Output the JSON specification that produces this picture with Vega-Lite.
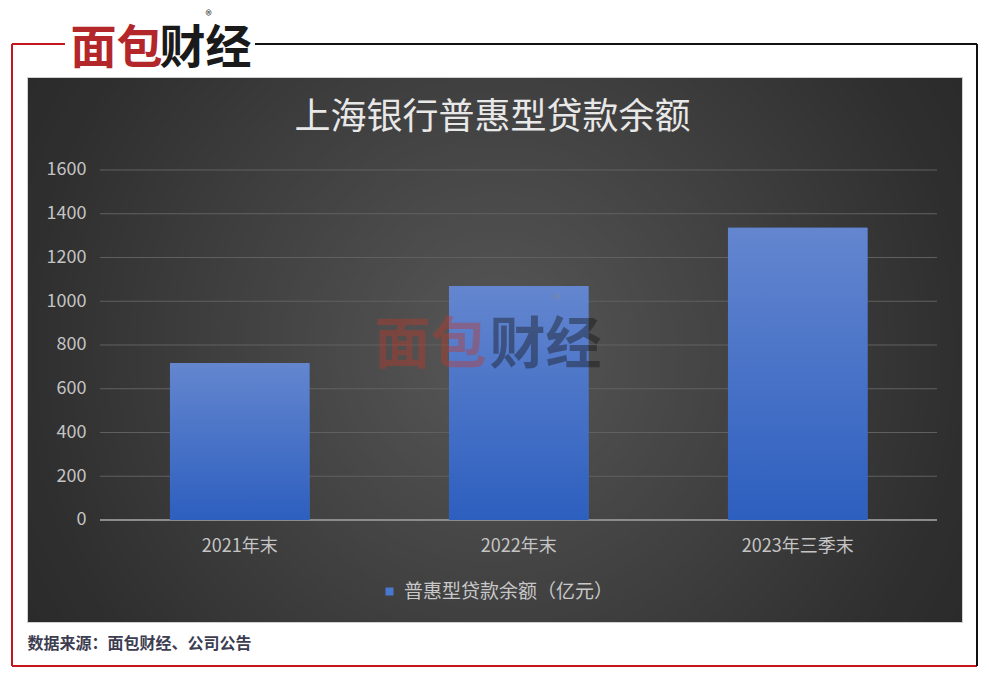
{
  "$schema": "https://vega.github.io/schema/vega-lite/v6.json",
  "width": 935,
  "height": 545,
  "autosize": {"type": "none"},
  "padding": {"left": 27, "top": 77, "right": 27, "bottom": 56},
  "background": "#ffffff",
  "config": {
    "font": "Noto Sans CJK SC",
    "view": {
      "fill": {"gradient": "radial", "x1": 0.5, "y1": 0.5, "r1": 0, "x2": 0.5, "y2": 0.5, "r2": 0.75,
        "stops": [{"offset": 0, "color": "#575757"}, {"offset": 0.66, "color": "#2f2f2f"}, {"offset": 1, "color": "#222222"}]},
      "stroke": "#cfcfcf",
      "strokeWidth": 1
    },
    "axis": {"grid": false, "domain": false, "ticks": false, "labelFont": "Noto Sans CJK SC", "titleFont": "Noto Sans CJK SC"},
    "legend": {"labelFont": "Noto Sans CJK SC"}
  },
  "resolve": {"scale": {"x": "independent", "y": "independent", "color": "independent"}},
  "layer": [
    {
      "data": {"values": [{}]},
      "mark": {"type": "rule", "color": "#c4161c", "strokeWidth": 2, "clip": false},
      "encoding": {
        "x": {"datum": 0, "type": "quantitative", "scale": {"domain": [0.015544, 0.984456], "nice": false, "zero": false},
          "axis": {"orient": "top", "labels": false, "ticks": false, "domain": false, "grid": false, "title": "面包",
            "titleX": 89, "titleY": -29, "titleAngle": 0, "titleAlign": "center", "titleBaseline": "middle", "titleAnchor": null,
            "titleFontSize": 46, "titleFontWeight": "bold", "titleColor": "#b3262a"}},
        "y": {"datum": 0, "type": "quantitative", "scale": {"domain": [0.07074, 0.946945], "nice": false, "zero": false},
          "axis": {"orient": "left", "labels": false, "ticks": false, "domain": false, "grid": false, "title": "财经",
            "titleX": 178, "titleY": -29, "titleAngle": 0, "titleAlign": "center", "titleBaseline": "middle", "titleAnchor": null,
            "titleFontSize": 46, "titleFontWeight": "bold", "titleColor": "#1a1a1a"}},
        "y2": {"datum": 1}
      }
    },
    {
      "data": {"values": [{}]},
      "mark": {"type": "rule", "color": "#c4161c", "strokeWidth": 2, "clip": false},
      "encoding": {
        "y": {"datum": 0, "type": "quantitative", "scale": {"domain": [0.07074, 0.946945], "nice": false, "zero": false},
          "axis": {"orient": "left", "labels": false, "ticks": false, "domain": false, "grid": false, "title": "®",
            "titleX": 529, "titleY": 222, "titleAngle": 0, "titleAlign": "center", "titleBaseline": "middle", "titleAnchor": null,
            "titleFontSize": 13, "titleFontWeight": "normal", "titleColor": "#8a8a8a", "titleOpacity": 0.7, "zindex": 1}},
        "x": {"datum": 0, "type": "quantitative", "scale": {"domain": [0.015544, 0.984456], "nice": false, "zero": false},
          "axis": {"orient": "top", "labels": false, "ticks": false, "domain": false, "grid": false, "title": "®",
            "titleX": 181, "titleY": -62, "titleAngle": 0, "titleAlign": "center", "titleBaseline": "middle", "titleAnchor": null,
            "titleFontSize": 13, "titleFontWeight": "normal", "titleColor": "#333333"}},
        "x2": {"datum": 1}
      }
    },
    {
      "data": {"values": [{}]},
      "mark": {"type": "rule", "color": "#c4161c", "strokeWidth": 2, "clip": false},
      "encoding": {
        "y": {"datum": 1, "type": "quantitative", "scale": {"domain": [0.07074, 0.946945], "nice": false, "zero": false}, "axis": null},
        "x": {"datum": 0, "type": "quantitative", "scale": {"domain": [0.015544, 0.984456], "nice": false, "zero": false}, "axis": null},
        "x2": {"datum": 0.0549}
      }
    },
    {
      "data": {"values": [{}]},
      "mark": {"type": "rule", "color": "#111111", "strokeWidth": 2, "clip": false},
      "encoding": {
        "y": {"datum": 1, "type": "quantitative", "scale": {"domain": [0.07074, 0.946945], "nice": false, "zero": false}, "axis": null},
        "x": {"datum": 0.2518, "type": "quantitative", "scale": {"domain": [0.015544, 0.984456], "nice": false, "zero": false}, "axis": null},
        "x2": {"datum": 1}
      }
    },
    {
      "data": {"values": [{}]},
      "mark": {"type": "rule", "color": "#111111", "strokeWidth": 2, "clip": false},
      "encoding": {
        "x": {"datum": 1, "type": "quantitative", "scale": {"domain": [0.015544, 0.984456], "nice": false, "zero": false}, "axis": null},
        "y": {"datum": 0, "type": "quantitative", "scale": {"domain": [0.07074, 0.946945], "nice": false, "zero": false}, "axis": null},
        "y2": {"datum": 1}
      }
    },
    {
      "data": {"values": [{"g": 200}, {"g": 400}, {"g": 600}, {"g": 800}, {"g": 1000}, {"g": 1200}, {"g": 1400}, {"g": 1600}]},
      "mark": {"type": "rule", "color": "#616161", "strokeWidth": 1},
      "encoding": {
        "y": {"field": "g", "type": "quantitative", "scale": {"domain": [-466.3, 2025.1], "nice": false, "zero": false},
          "axis": {"orient": "left", "labels": false, "ticks": false, "domain": false, "grid": false, "title": "面包",
            "titleX": 403, "titleY": 268, "titleAngle": 0, "titleAlign": "center", "titleBaseline": "middle", "titleAnchor": null,
            "titleFontSize": 56, "titleFontWeight": "bold", "titleColor": "#c0392b", "titleOpacity": 0.4, "zindex": 1}},
        "x": {"datum": 0, "type": "quantitative", "scale": {"domain": [-0.08722, 1.02987], "nice": false, "zero": false},
          "axis": {"orient": "bottom", "labels": false, "ticks": false, "domain": false, "grid": false, "title": "数据来源：面包财经、公司公告",
            "titleX": 0, "titleY": 21, "titleAngle": 0, "titleAlign": "left", "titleBaseline": "middle", "titleAnchor": null,
            "titleFontSize": 16, "titleFontWeight": "bold", "titleColor": "#3d3d52"}},
        "x2": {"datum": 1}
      }
    },
    {
      "data": {"values": [{}]},
      "mark": {"type": "rule", "color": "#8c8c8c", "strokeWidth": 2},
      "encoding": {
        "y": {"datum": 0, "type": "quantitative", "scale": {"domain": [-466.3, 2025.1], "nice": false, "zero": false}, "axis": null},
        "x": {"datum": 0, "type": "quantitative", "scale": {"domain": [-0.08722, 1.02987], "nice": false, "zero": false}, "axis": null},
        "x2": {"datum": 1}
      }
    },
    {
      "data": {"values": [
        {"period": "2021年末", "value": 718, "s": "普惠型贷款余额（亿元）"},
        {"period": "2022年末", "value": 1070, "s": "普惠型贷款余额（亿元）"},
        {"period": "2023年三季末", "value": 1336, "s": "普惠型贷款余额（亿元）"}
      ]},
      "encoding": {
        "x": {"field": "period", "type": "nominal", "sort": null,
          "scale": {"paddingInner": 0.5, "paddingOuter": 0.4256, "align": 0.602},
          "axis": {"orient": "bottom", "offset": -102, "labelPadding": 17, "labelFontSize": 18, "labelColor": "#c4c4c4", "labelAngle": 0,
            "domain": false, "ticks": false, "grid": false, "title": "财经",
            "titleX": 518, "titleY": -175, "titleAngle": 0, "titleAlign": "center", "titleBaseline": "middle", "titleAnchor": null,
            "titleFontSize": 56, "titleFontWeight": "bold", "titleColor": "#111111", "titleOpacity": 0.4, "zindex": 1}},
        "y": {"field": "value", "type": "quantitative", "scale": {"domain": [-466.3, 2025.1], "nice": false, "zero": false},
          "axis": {"orient": "left", "offset": -73, "values": [0, 200, 400, 600, 800, 1000, 1200, 1400, 1600], "format": "d", "labelPadding": 14,
            "labelFontSize": 18, "labelColor": "#c4c4c4", "domain": false, "ticks": false, "grid": false,
            "title": "上海银行普惠型贷款余额", "titleX": 392, "titleY": 40, "titleAngle": 0, "titleAlign": "center", "titleBaseline": "middle",
            "titleAnchor": null, "titleFontSize": 36, "titleFontWeight": "normal", "titleColor": "#e8e8e8"}},
        "y2": {"datum": 0}
      },
      "layer": [
        {
          "mark": {"type": "bar"},
          "encoding": {
            "color": {"field": "s", "type": "nominal", "scale": {"range": ["#4a78d0"]},
              "legend": {"orient": "none", "legendX": 353, "legendY": 505, "title": null, "padding": 0, "labelLimit": 0,
                "symbolType": "square", "symbolSize": 64, "labelFontSize": 19, "labelColor": "#c8c8c8", "labelOffset": 5}}
          }
        },
        {
          "mark": {"type": "bar", "color": {"gradient": "linear", "x1": 0, "y1": 0, "x2": 0, "y2": 1,
            "stops": [{"offset": 0, "color": "#6486cf"}, {"offset": 1, "color": "#2d5fbf"}]}}
        }
      ]
    }
  ]
}
